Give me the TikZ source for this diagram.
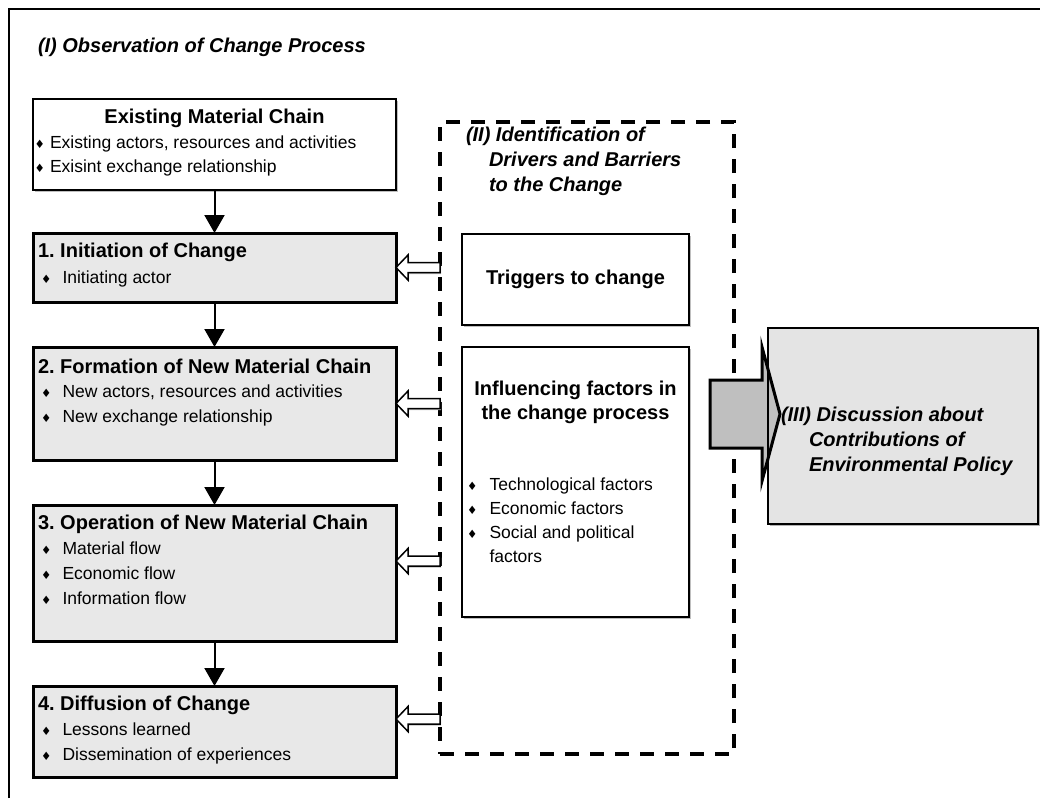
\documentclass[tikz,border=0pt]{standalone}
\usepackage{fontspec}
\setmainfont{Liberation Sans}
\newfontfamily\symfont{DejaVu Sans}
\usetikzlibrary{arrows.meta,calc,shadows}
\frenchspacing

\definecolor{stagegray}{gray}{0.91}
\definecolor{discgray}{gray}{0.895}
\definecolor{pushgray}{gray}{0.75}

\newcommand\bodyfont{\fontsize{17.5}{21}\selectfont}
\newcommand\headfont{\fontsize{20}{24}\selectfont\bfseries}
\newcommand\partfont{\fontsize{20}{24}\selectfont\bfseries\itshape}
\newcommand\bul{{\symfont\fontsize{11.5}{12}\selectfont ♦}}
% bullet line: name, x, baseline, indent of the text, text
\newcommand\bitem[5]{\node[txt, font=\bodyfont] (#1) at (#2,#3) {\makebox[#4pt][l]{\bul}#5};}

\tikzset{
  stagebox/.style={draw, line width=3pt, fill=stagegray, outer sep=0pt, inner sep=0pt},
  plainbox/.style={draw, line width=1.8pt, fill=white, outer sep=0pt, inner sep=0pt,
    drop shadow={shadow xshift=1.5pt, shadow yshift=-1.5pt, fill=black!25, opacity=1}},
  txt/.style={anchor=base west, inner sep=0pt, outer sep=0pt},
  ctxt/.style={anchor=base, inner sep=0pt, outer sep=0pt},
  flow/.style={line width=2pt, -{Triangle[width=20pt,length=18pt]}},
  hollow/.style={draw, fill=white, line width=1.5pt, line join=miter,
    drop shadow={shadow xshift=1pt, shadow yshift=-1.5pt, fill=black!25, opacity=1}},
  push/.style={draw, fill=pushgray, line width=3pt, line join=miter},
  region/.style={draw, line width=4pt, dash pattern=on 14pt off 11pt, outer sep=0pt, inner sep=0pt},
}

% horizontal hollow arrow: tip coordinate, tail coordinate (same row)
\newcommand\openarrow[2]{%
  \path[hollow] let \p1=(#1), \p2=(#2) in
    (\x1,\y1) -- (\x1+12pt,\y1+12.5pt) -- (\x1+12pt,\y1+5pt) -- (\x2,\y1+5pt)
    -- (\x2,\y1-5pt) -- (\x1+12pt,\y1-5pt) -- (\x1+12pt,\y1-12.5pt) -- cycle;}

\begin{document}
\begin{tikzpicture}[x=1pt,y=-1pt]
\useasboundingbox (0,0) rectangle (1040,798);
\fill[white] (0,0) rectangle (1040,798);

% outer frame of part (I)
\draw[line width=2pt] (9,798) -- (9,8.5) -- (1040,8.5);
\node[txt, font=\partfont] (obs) at (38,52) {(I) Observation of Change Process};

% material chain stages
\node[plainbox, minimum width=363pt, minimum height=91pt] (ex) at (214.5,144.5) {};
\node[stagebox, minimum width=363pt, minimum height=69pt]  (b1) at (214.5,267.5) {};
\node[stagebox, minimum width=363pt, minimum height=113pt] (b2) at (214.5,403.5) {};
\node[stagebox, minimum width=363pt, minimum height=136pt] (b3) at (214.5,573) {};
\node[stagebox, minimum width=363pt, minimum height=91pt]  (b4) at (214.5,731.5) {};

\node[ctxt, font=\headfont] (exh) at (214.5,123) {Existing Material Chain};
\bitem{exa}{34.5}{148}{15.5}{Existing actors, resources and activities}
\bitem{exb}{34.5}{172}{15.5}{Exisint exchange relationship}

\node[txt, font=\headfont] (b1h) at (38,257.5) {1. Initiation of Change};
\bitem{b1a}{41}{283}{21.5}{Initiating actor}

\node[txt, font=\headfont] (b2h) at (38,373.5) {2. Formation of New Material Chain};
\bitem{b2a}{41}{397}{21.5}{New actors, resources and activities}
\bitem{b2b}{41}{422}{21.5}{New exchange relationship}

\node[txt, font=\headfont] (b3h) at (38,529) {3. Operation of New Material Chain};
\bitem{b3a}{41}{554}{21.5}{Material flow}
\bitem{b3b}{41}{579}{21.5}{Economic flow}
\bitem{b3c}{41}{604}{21.5}{Information flow}

\node[txt, font=\headfont] (b4h) at (38,710) {4. Diffusion of Change};
\bitem{b4a}{41}{735}{21.5}{Lessons learned}
\bitem{b4b}{41}{760}{21.5}{Dissemination of experiences}

\draw[flow] (ex.south) -- (b1.north);
\draw[flow] (b1.south) -- (b2.north);
\draw[flow] (b2.south) -- (b3.north);
\draw[flow] (b3.south) -- (b4.north);

% part (II): drivers and barriers
\node[region, minimum width=294pt, minimum height=632pt] (drv) at (587,438) {};
\node[txt, font=\partfont] (drvh1) at (466,141.5) {(II) Identification of};
\node[txt, font=\partfont] (drvh2) at (489,166.5) {Drivers and Barriers};
\node[txt, font=\partfont] (drvh3) at (489,191.5) {to the Change};

\node[plainbox, minimum width=227pt, minimum height=91pt]  (trg) at (575.5,279.5) {};
\node[ctxt, font=\headfont] (trgt) at (575.5,284.5) {Triggers to change};

\node[plainbox, minimum width=227pt, minimum height=270pt] (inf) at (575.5,482) {};
\node[ctxt, font=\headfont] (inft1) at (575.5,395) {Influencing factors in};
\node[ctxt, font=\headfont] (inft2) at (575.5,419.5) {the change process};
\bitem{infa}{467}{490}{22.5}{Technological factors}
\bitem{infb}{467}{514}{22.5}{Economic factors}
\bitem{infc}{467}{538}{22.5}{Social and political}
\node[txt, font=\bodyfont] (infd) at (489.5,562) {factors};

% influences acting on the stages
\coordinate (t3) at ($(b3.east)+(0,-12)$);
\coordinate (t4) at ($(b4.east)+(0,-12.5)$);
\openarrow{b1.east}{drv.west}
\openarrow{b2.east}{drv.west}
\openarrow{t3}{drv.west}
\openarrow{t4}{drv.west}

% part (III): environmental policy
\node[fill=discgray, minimum width=270pt, minimum height=196pt, outer sep=0pt, inner sep=0pt,
  drop shadow={shadow xshift=1.5pt, shadow yshift=-1.5pt, fill=black!30, opacity=1}] (dsc) at (903,426) {};
\path[push] let \p1=($(dsc.west)+(12,-12)$), \p2=($(drv.east)+(-24,0)$) in
  (\x1,\y1) -- (\x1-18pt,\y1+67pt) -- (\x1-18pt,\y1+34pt) -- (\x2,\y1+34pt)
  -- (\x2,\y1-34pt) -- (\x1-18pt,\y1-34pt) -- (\x1-18pt,\y1-67pt) -- cycle;
\draw[line width=2.5pt] (dsc.north west) rectangle (dsc.south east);
\node[txt, font=\partfont] (dsc1) at (781,421) {(III) Discussion about};
\node[txt, font=\partfont] (dsc2) at (809,446) {Contributions of};
\node[txt, font=\partfont] (dsc3) at (809,471) {Environmental Policy};
\end{tikzpicture}
\end{document}
